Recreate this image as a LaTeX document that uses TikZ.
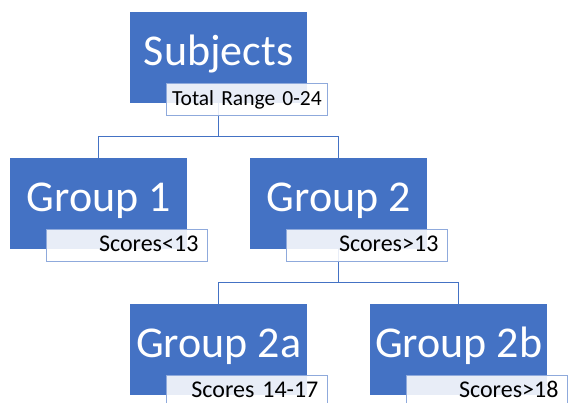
\documentclass[tikz,border=0pt]{standalone}
\usepackage{fontspec}
\setmainfont{Carlito}
\definecolor{boxblue}{HTML}{4472C4}
\definecolor{lblborder}{HTML}{8FAADC}
\begin{document}
\begin{tikzpicture}[x=1pt,y=-1pt,
  bigbox/.style={rectangle, fill=boxblue, draw=none, anchor=north west,
    minimum width=177pt, minimum height=91pt, inner sep=0pt,
    text=white, font=\fontsize{44}{48}\selectfont,
    text height=30pt, text depth=15pt},
  lbl/.style={rectangle, fill=white, fill opacity=0.88, text opacity=1,
    draw=lblborder, line width=0.8pt, anchor=north west,
    inner xsep=9pt, inner ysep=0pt, text width=143pt, align=right,
    minimum height=32pt, text height=16pt, text depth=3pt,
    font=\fontsize{24}{26}\selectfont},
  conn/.style={draw=boxblue, line width=0.9pt}]
\useasboundingbox (0,0) rectangle (568,402);
\clip (0,0) rectangle (568,402);
% boxes
\node[bigbox] (sub) at (130,12) {Subjects};
\node[bigbox] (g1) at (10,158) {Group 1};
\node[bigbox] (g2) at (250,158) {Group 2};
\node[bigbox] (g2a) at (130,304) {Group 2a};
\node[bigbox] (g2b) at (370,304) {Group 2b};
% connectors
\draw[conn] (sub.south) -- ++(0,33) -| (g1.north);
\draw[conn] (sub.south) -- ++(0,33) -| (g2.north);
\draw[conn] (g2.south) -- ++(0,33) -| (g2a.north);
\draw[conn] (g2.south) -- ++(0,33) -| (g2b.north);
% labels
\node[lbl, inner xsep=2pt, text width=157pt, align=center, font=\fontsize{21.5}{24}\selectfont] (subl) at (166,83) {\mbox{Total Range 0-24}};
\node[lbl] (g1l) at (46,229) {Scores<13};
\node[lbl] (g2l) at (286,229) {Scores>13};
\node[lbl] (g2al) at (166,375) {Scores 14-17};
\node[lbl] (g2bl) at (406,375) {Scores>18};
\end{tikzpicture}
\end{document}
